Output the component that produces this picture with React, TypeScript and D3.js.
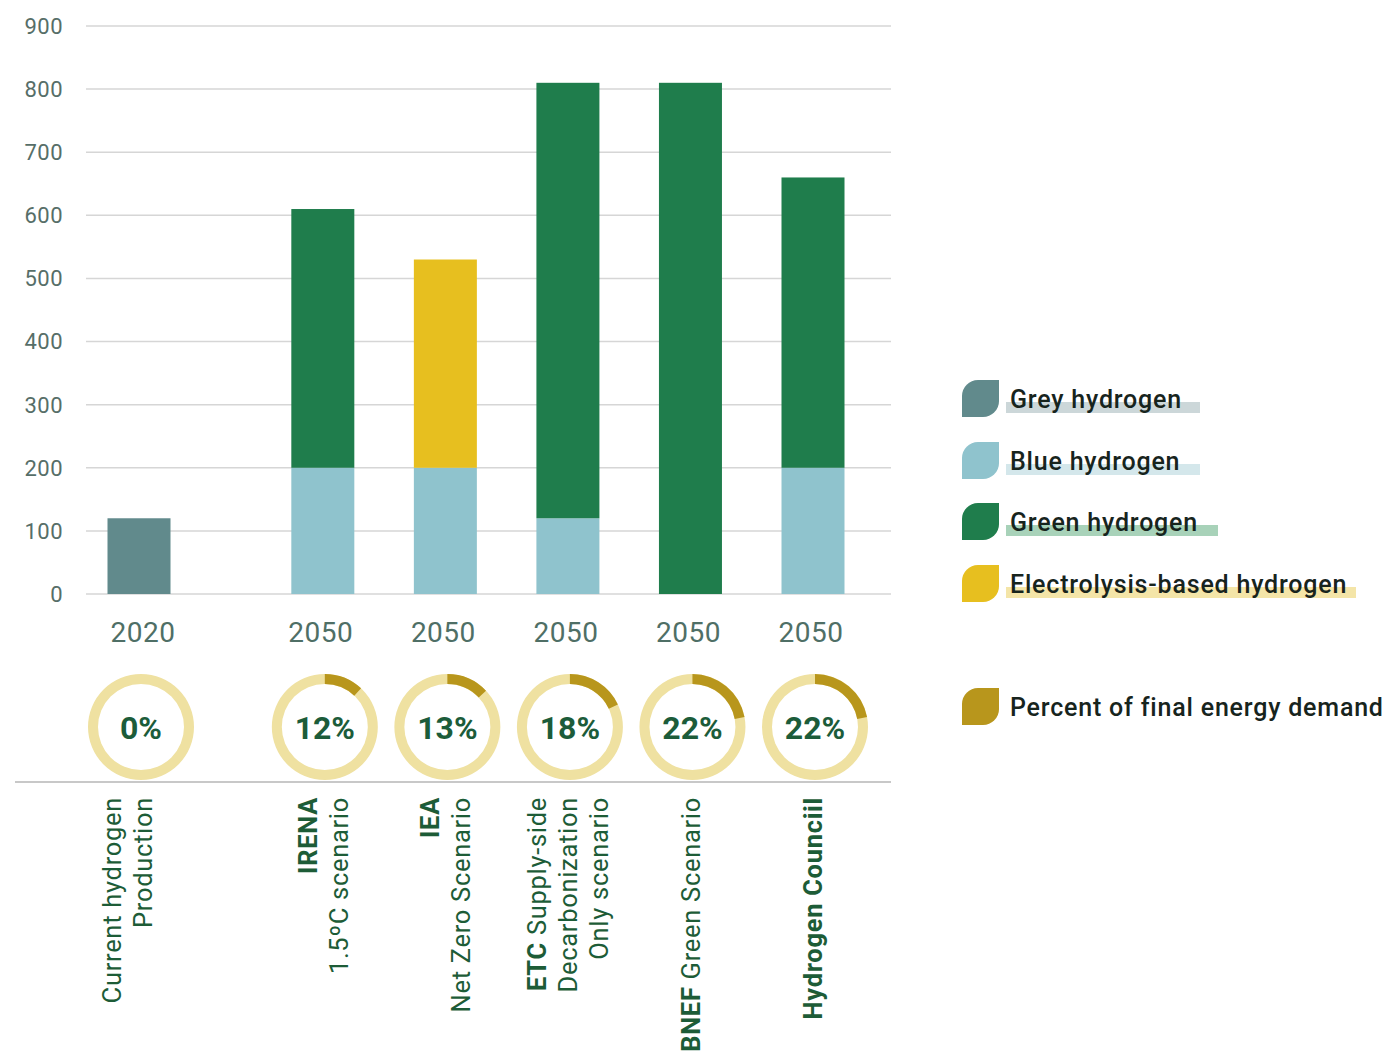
import React from "react";
import * as d3 from "d3";

const categories = ["current", "irena", "iea", "etc", "bnef", "hc"];
const years = ["2020", "2050", "2050", "2050", "2050", "2050"];
const greyH = [120, 0, 0, 0, 0, 0];
const blueH = [0, 200, 200, 120, 0, 200];
const greenH = [0, 410, 0, 690, 810, 460];
const electroH = [0, 0, 330, 0, 0, 0];
const percents = [0, 12, 13, 18, 22, 22];
const yTicks = [0, 100, 200, 300, 400, 500, 600, 700, 800, 900];

type Seg = { t: string; b: boolean };
const labels: Seg[][][] = [
  [[{ t: "Current hydrogen", b: false }], [{ t: "Production", b: false }]],
  [[{ t: "IRENA", b: true }], [{ t: "1.5ºC scenario", b: false }]],
  [[{ t: "IEA", b: true }], [{ t: "Net Zero Scenario", b: false }]],
  [
    [{ t: "ETC", b: true }, { t: " Supply-side", b: false }],
    [{ t: "Decarbonization", b: false }],
    [{ t: "Only scenario", b: false }],
  ],
  [[{ t: "BNEF", b: true }, { t: " Green Scenario", b: false }]],
  [[{ t: "Hydrogen Counciil", b: true }]],
];

const seriesKeys = ["grey", "blue", "green", "electro"];
const seriesNames = ["Grey hydrogen", "Blue hydrogen", "Green hydrogen", "Electrolysis-based hydrogen"];
const seriesColors = ["#618a8c", "#8fc3cd", "#1f7d4c", "#e7bf1f"];
const highlightColors = ["#ccd7d9", "#d4e7eb", "#a8d2b9", "#f4e5a8"];
const percentLegend = "Percent of final energy demand";
const donutDark = "#b8961c";
const donutLight = "#efe1a1";

const table = categories.map((c, i) => ({
  cat: c,
  grey: greyH[i],
  blue: blueH[i],
  green: greenH[i],
  electro: electroH[i],
}));

export default function App() {
  const W = 1396;
  const H = 1053;
  const y = d3.scaleLinear().domain([0, 900]).range([594, 26]);
  const slot = (i: number) => (i === 0 ? 0 : i + 0.5);
  const x = d3.scaleLinear().domain([0, 5.5]).range([139, 813]);
  const barW = 63;
  const stack = d3.stack<any>().keys(seriesKeys)(table);

  const arc = d3.arc<any>();
  const rOut = 53;
  const rIn = 43;
  const donutY = 727;

  const leaf = (x0: number, y0: number, s: number, r: number) =>
    `M${x0},${y0 + r} A${r},${r} 0 0 1 ${x0 + r},${y0} L${x0 + s},${y0} L${x0 + s},${y0 + s - r} A${r},${r} 0 0 1 ${x0 + s - r},${y0 + s} L${x0},${y0 + s} Z`;

  const legendY = [399, 461, 522, 584];
  const hlEnd = [1200, 1200, 1218, 1356];

  return (
    <div style={{ position: "absolute", left: 0, top: 0 }}>
      <svg width={W} height={H} style={{ display: "block", background: "#fff" }}>
        {yTicks.map((t) => (
          <g key={t}>
            <line x1={86} x2={891} y1={y(t)} y2={y(t)} stroke="#d6d6d6" strokeWidth={1.5} />
            <text
              x={63}
              y={y(t)}
              dy="0.36em"
              textAnchor="end"
              fontFamily="Roboto, sans-serif"
              fontSize={22}
              letterSpacing={0.5}
              fill="#566e68"
            >
              {t}
            </text>
          </g>
        ))}
        {stack.map((layer, k) => (
          <g key={layer.key} fill={seriesColors[k]}>
            {layer.map((d, i) =>
              d[1] - d[0] > 0 ? (
                <rect
                  key={i}
                  x={x(slot(i)) - barW / 2}
                  width={barW}
                  y={y(d[1])}
                  height={y(d[0]) - y(d[1])}
                />
              ) : null
            )}
          </g>
        ))}
        {years.map((yr, i) => (
          <text
            key={i}
            x={x(slot(i)) + (i === 0 ? 4 : -2)}
            y={642}
            textAnchor="middle"
            fontFamily="Roboto, sans-serif"
            fontSize={28}
            letterSpacing={0.5}
            fill="#4f6f66"
          >
            {yr}
          </text>
        ))}
        {percents.map((p, i) => {
          const cx = x(slot(i)) + 2;
          return (
            <g key={i} transform={`translate(${cx},${donutY})`}>
              <path
                d={arc({ innerRadius: rIn, outerRadius: rOut, startAngle: 0, endAngle: Math.PI * 2 }) || ""}
                fill={donutLight}
              />
              {p > 0 && (
                <path
                  d={
                    arc({
                      innerRadius: rIn,
                      outerRadius: rOut,
                      startAngle: 0,
                      endAngle: (p / 100) * Math.PI * 2,
                    }) || ""
                  }
                  fill={donutDark}
                />
              )}
              <text
                y={0}
                dy="0.36em"
                textAnchor="middle"
                fontFamily="Roboto, sans-serif"
                fontWeight={700}
                fontSize={32}
                fill="#1c5c3a"
              >
                {p}%
              </text>
            </g>
          );
        })}
        <line x1={15} x2={891} y1={782} y2={782} stroke="#c8c8c8" strokeWidth={2} />
        {labels.map((lines, i) => {
          const cx = x(slot(i)) + (i === 0 ? -12 : 0);
          const n = lines.length;
          return (
            <g key={i}>
              {lines.map((segs, j) => {
                const lx = cx + (j - (n - 1) / 2) * 31;
                return (
                  <text
                    key={j}
                    transform={`translate(${lx},797) rotate(-90)`}
                    textAnchor="end"
                    dy="0.36em"
                    fontFamily="Roboto, sans-serif"
                    fontSize={25.5}
                    letterSpacing={0.7}
                    fill="#1d5c37"
                  >
                    {segs.map((s, k) => (
                      <tspan key={k} fontWeight={s.b ? 700 : 400}>
                        {s.t}
                      </tspan>
                    ))}
                  </text>
                );
              })}
            </g>
          );
        })}
        {seriesNames.map((name, k) => (
          <g key={name}>
            <path d={leaf(962, legendY[k] - 19, 37, 16)} fill={seriesColors[k]} />
            <rect x={1006} y={legendY[k] + 3} width={hlEnd[k] - 1006} height={11} fill={highlightColors[k]} />
            <text
              x={1010}
              y={legendY[k]}
              dy="0.36em"
              fontFamily="Roboto, sans-serif"
              fontWeight={500}
              fontSize={25}
              letterSpacing={0.8}
              fill="#17241d"
            >
              {name}
            </text>
          </g>
        ))}
        <g>
          <path d={leaf(962, 707 - 19, 37, 16)} fill={donutDark} />
          <text
            x={1010}
            y={707}
            dy="0.36em"
            fontFamily="Roboto, sans-serif"
            fontWeight={500}
            fontSize={25}
            letterSpacing={0.8}
            fill="#17241d"
          >
            {percentLegend}
          </text>
        </g>
      </svg>
    </div>
  );
}
